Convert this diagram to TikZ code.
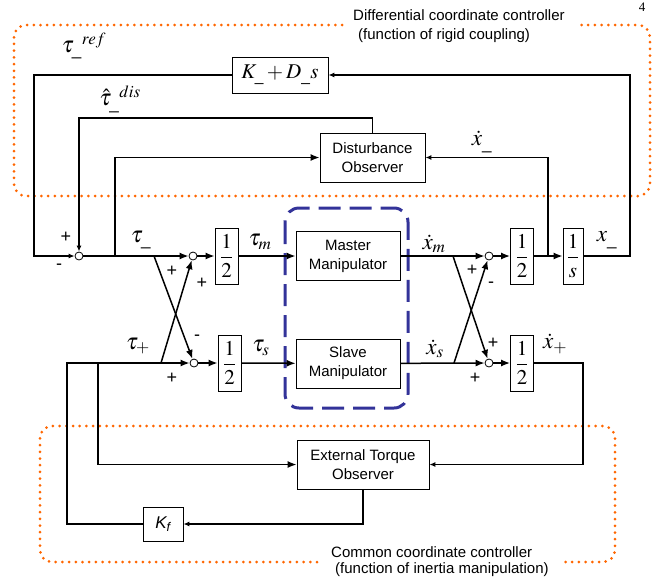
\documentclass[tikz,border=0pt]{standalone}
\usepackage{amsmath}
\usepackage{mathptmx}
\usepackage[no-math]{fontspec}
\setmainfont{Liberation Sans}
\newfontfamily\pagefont{Liberation Serif}
\usetikzlibrary{
  arrows.meta,
  calc,
  positioning
}
\definecolor{ctrlorange}{RGB}{255,102,0}
\definecolor{mgrblue}{RGB}{51,51,153}

\begin{document}
\begin{tikzpicture}[x=1pt,y=-1pt,>=Latex,
  wire/.style={line width=1.5pt},
  sig/.style={wire,-{Latex[length=9pt,width=7pt]}},
  sigs/.style={wire,-{Latex[length=6pt,width=5pt]}},
  blk/.style={draw,line width=0.8pt,fill=white,inner sep=1pt,align=center,
    font=\fontsize{15}{19}\selectfont},
  half/.style={blk,minimum width=23pt,minimum height=56pt},
  sumj/.style={circle,draw,line width=0.8pt,fill=white,inner sep=0pt,minimum size=8pt},
  lbl/.style={inner sep=0pt,font=\fontsize{23}{26}\selectfont},
  sgn/.style={inner sep=0pt,font=\fontsize{18}{20}\selectfont},
  note/.style={inner sep=0pt,anchor=base west,font=\fontsize{15}{18}\selectfont},
  grp/.style={draw=ctrlorange,line width=3pt,line cap=round,
    dash pattern=on 0pt off 6.7pt,rounded corners=12pt},
  mgr/.style={draw=mgrblue,line width=3pt,dash pattern=on 22pt off 9pt,
    rounded corners=14pt}
]
  \useasboundingbox (0,0) rectangle (671,584);

  % controller groups
  \draw[grp] (342,25) -- (14,25) -- (14,196) -- (650,196) -- (650,25) -- (580,25);
  \draw[grp] (317,562) -- (40,562) -- (40,426) -- (615,426) -- (615,562) -- (565,562);
  \draw[mgr] (285,208) rectangle (408,408);
  \node[note] (diffT) at (353,20) {Differential coordinate controller};
  \node[note] (diffS) at (358,39) {(function of rigid coupling)};
  \node[note] (comT) at (331,557) {Common coordinate controller};
  \node[note] (comS) at (335,573) {(function of inertia manipulation)};
  \node[inner sep=0pt,font=\pagefont\fontsize{13}{15}\selectfont] (pg) at (642,7) {4};

  % blocks
  \node[blk,minimum width=96pt,minimum height=36pt,font=\fontsize{21}{24}\selectfont]
    (KD) at (280,75) {$K_{\_}+D_{\_}s$};
  \node[blk,minimum width=105pt,minimum height=49pt] (DO) at (372.5,157.5) {Disturbance\\Observer};
  \node[blk,minimum width=104pt,minimum height=49pt] (MM) at (348,256) {Master\\Manipulator};
  \node[blk,minimum width=104pt,minimum height=49pt] (SM) at (348,363.5) {Slave\\Manipulator};
  \node[blk,minimum width=132pt,minimum height=49pt] (ETO) at (363,464.5) {External Torque\\Observer};
  \node[blk,minimum width=40pt,minimum height=34pt,font=\fontsize{17}{20}\selectfont\itshape]
    (Kf) at (163,524) {K\textsubscript{f}};
  \node[half,font=\fontsize{21}{24}\selectfont] (h1) at (226.5,256) {$\dfrac{1}{2}$};
  \node[half,font=\fontsize{21}{24}\selectfont] (h2) at (229.5,363) {$\dfrac{1}{2}$};
  \node[half,font=\fontsize{21}{24}\selectfont] (h3) at (522,256) {$\dfrac{1}{2}$};
  \node[half,font=\fontsize{21}{24}\selectfont] (h4) at (522,363) {$\dfrac{1}{2}$};
  \node[half,minimum width=20pt,font=\fontsize{21}{24}\selectfont] (integ) at (573,256) {$\dfrac{1}{s}$};

  % summing junctions
  \node[sumj] (s1) at (79,256) {};
  \node[sumj] (s2) at (193,256) {};
  \node[sumj] (s3) at (194,363) {};
  \node[sumj] (s4) at (489,256) {};
  \node[sumj] (s5) at (489,363) {};

  % differential loop
  \draw[sigs] (KD.west) -| (34,256) -- (s1);
  \draw[sigs] (DO.north) |- (79,118) -- (s1);
  \draw[sig] (s1) -- (s2);
  \draw[sig] (115,256) |- (DO.west);
  \draw[sig] (s2) -- (h1);
  \draw[sig] (h1) -- (MM);
  \draw[sig] (s3) -- (h2);
  \draw[sig] (h2) -- (SM);
  \draw[sig] (154,256) -- (s3);
  \draw[sig] (161,363) -- (s2);

  % plant outputs
  \draw[sig] (MM) -- (s4);
  \draw[sig] (SM) -- (s5);
  \draw[sig] (453,256) -- (s5);
  \draw[sig] (454,363) -- (s4);
  \draw[sig] (s4) -- (h3);
  \draw[sig] (s5) -- (h4);
  \draw[sig] (h3) -- (integ);
  \draw[sigs] (548,256) |- (DO.east);
  \draw[sigs] (integ.east) -- (630,256) |- (KD.east);

  % common loop
  \draw[sigs] (h4.east) -- (583,363) |- (ETO.east);
  \draw[sigs] (ETO.south) |- (Kf.east);
  \draw[sig] (Kf.west) -| (67,363) -- (s3);
  \draw[sig] (98,363) |- (ETO.west);

  % signal names
  \node[lbl] (tref) at (84,46) {$\tau_{\_}{}^{ref}$};
  \node[lbl] (tdis) at (120,99) {$\hat{\tau}_{\_}{}^{dis}$};
  \node[lbl] (tmin) at (141,240) {$\tau_{\_}$};
  \node[lbl] (tplus) at (138,346) {$\tau_{+}$};
  \node[lbl] (tm) at (260,242) {$\tau_{m}$};
  \node[lbl] (ts) at (261,348) {$\tau_{s}$};
  \node[lbl] (xm) at (434,244) {$\dot{x}_{m}$};
  \node[lbl] (xs) at (435,349) {$\dot{x}_{s}$};
  \node[lbl] (xmin) at (607,240) {$x_{\_}$};
  \node[lbl] (xplus) at (555,344) {$\dot{x}_{+}$};
  \node[lbl] (xdm) at (482,142) {$\dot{x}_{\_}$};

  % signs
  \node[sgn] at (66,237) {+};
  \node[sgn] at (59,267) {-};
  \node[sgn] at (172,271) {+};
  \node[sgn] at (202,283) {+};
  \node[sgn] at (197,338) {-};
  \node[sgn] at (172,378) {+};
  \node[sgn] at (472,270) {+};
  \node[sgn] at (491,285) {-};
  \node[sgn] at (493,343) {+};
  \node[sgn] at (475,378) {+};
\end{tikzpicture}
\end{document}
